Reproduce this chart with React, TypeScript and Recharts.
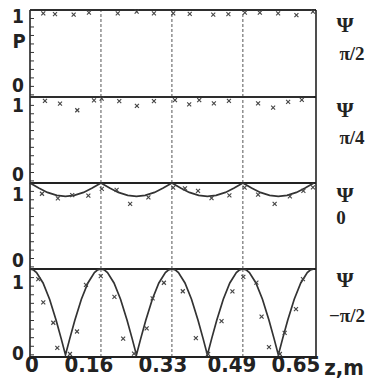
import React from 'react';
import { ComposedChart, Line, Scatter, XAxis, YAxis, ReferenceLine } from 'recharts';

// z axis (m)
const zTicks = [0, 0.163, 0.326, 0.489, 0.652];
const zTickLabels = ['0', '0.16', '0.33', '0.49', '0.65'];
const pTicks = [0, 0.1, 0.2, 0.3, 0.4, 0.5, 0.6, 0.7, 0.8, 0.9, 1];
const phaseLabels = ['π/2', 'π/4', '0', '−π/2'];

// calculated curves
const zFlat = [0, 0.652];
const pHalfPi = [1, 1];
const pQuarterPi = [1, 1];

const zCurveZero = [
  0, 0.02, 0.04, 0.0615, 0.0815, 0.1015, 0.123, 0.143,
  0.163, 0.183, 0.203, 0.2245, 0.2445, 0.2645, 0.286, 0.306,
  0.326, 0.346, 0.366, 0.3875, 0.4075, 0.4275, 0.449, 0.469,
  0.489, 0.509, 0.529, 0.5505, 0.5705, 0.5905, 0.612, 0.632, 0.652,
];
const pCurveZero = [
  1, 0.94, 0.888, 0.852, 0.84, 0.852, 0.888, 0.94,
  1, 0.94, 0.888, 0.852, 0.84, 0.852, 0.888, 0.94,
  1, 0.94, 0.888, 0.852, 0.84, 0.852, 0.888, 0.94,
  1, 0.94, 0.888, 0.852, 0.84, 0.852, 0.888, 0.94, 1,
];

const zCurveMinusHalfPi = [
  0, 0.0075, 0.015, 0.03, 0.045, 0.06, 0.0715, 0.0815, 0.0915, 0.103, 0.118, 0.133, 0.148, 0.1555,
  0.163, 0.1705, 0.178, 0.193, 0.208, 0.223, 0.2345, 0.2445, 0.2545, 0.266, 0.281, 0.296, 0.311, 0.3185,
  0.326, 0.3335, 0.341, 0.356, 0.371, 0.386, 0.3975, 0.4075, 0.4175, 0.429, 0.444, 0.459, 0.474, 0.4815,
  0.489, 0.4965, 0.504, 0.519, 0.534, 0.549, 0.5605, 0.5705, 0.5805, 0.592, 0.607, 0.622, 0.637, 0.6445,
  0.652,
];
const pCurveMinusHalfPi = [
  1, 0.99, 0.958, 0.837, 0.647, 0.402, 0.192, 0, 0.192, 0.402, 0.647, 0.837, 0.958, 0.99,
  1, 0.99, 0.958, 0.837, 0.647, 0.402, 0.192, 0, 0.192, 0.402, 0.647, 0.837, 0.958, 0.99,
  1, 0.99, 0.958, 0.837, 0.647, 0.402, 0.192, 0, 0.192, 0.402, 0.647, 0.837, 0.958, 0.99,
  1, 0.99, 0.958, 0.837, 0.647, 0.402, 0.192, 0, 0.192, 0.402, 0.647, 0.837, 0.958, 0.99,
  1,
];

// measured points (x marks)
const zMarksHalfPi = [0.0305, 0.0574, 0.1003, 0.1354, 0.2016, 0.245, 0.2847, 0.329, 0.367, 0.421, 0.4557, 0.4936, 0.528, 0.57, 0.612, 0.65];
const pMarksHalfPi = [0.961, 0.952, 0.945, 0.968, 0.961, 0.98, 0.961, 0.961, 0.955, 0.945, 0.952, 0.968, 0.968, 0.961, 0.94, 0.98];

const zMarksQuarterPi = [0.0344, 0.0689, 0.1086, 0.147, 0.1646, 0.205, 0.2456, 0.2847, 0.333, 0.3657, 0.3887, 0.4224, 0.457, 0.524, 0.5585, 0.593, 0.6244];
const pMarksQuarterPi = [0.955, 0.922, 0.842, 0.961, 0.981, 0.952, 0.895, 0.952, 0.964, 0.913, 0.964, 0.925, 0.955, 0.925, 0.874, 0.943, 0.967];

const zMarksZero = [0.0275, 0.064, 0.097, 0.134, 0.165, 0.199, 0.23, 0.272, 0.329, 0.356, 0.386, 0.417, 0.458, 0.493, 0.524, 0.562, 0.597, 0.628, 0.65];
const pMarksZero = [0.872, 0.816, 0.855, 0.849, 0.929, 0.917, 0.75, 0.829, 0.944, 0.935, 0.905, 0.819, 0.852, 0.945, 0.862, 0.75, 0.84, 0.905, 0.949];

const zMarksMinusHalfPi = [0.019, 0.0305, 0.0535, 0.0627, 0.0918, 0.108, 0.1286, 0.1625, 0.194, 0.214, 0.239, 0.268, 0.2817, 0.3076, 0.351, 0.381, 0.409, 0.44, 0.465, 0.49, 0.52, 0.532, 0.549, 0.574, 0.585, 0.611, 0.627];
const pMarksMinusHalfPi = [0.881, 0.612, 0.374, 0.08, 0.01, 0.272, 0.816, 0.917, 0.676, 0.19, 0.014, 0.309, 0.658, 0.84, 0.741, 0.196, 0.01, 0.394, 0.739, 0.909, 0.842, 0.445, 0.089, 0.01, 0.255, 0.533, 0.881];

const zip = (zs: number[], ps: number[]) => zs.map((z, i) => ({ z, p: ps[i] }));

const panels = [
  { curve: zip(zFlat, pHalfPi), marks: zip(zMarksHalfPi, pMarksHalfPi) },
  { curve: zip(zFlat, pQuarterPi), marks: zip(zMarksQuarterPi, pMarksQuarterPi) },
  { curve: zip(zCurveZero, pCurveZero), marks: zip(zMarksZero, pMarksZero) },
  { curve: zip(zCurveMinusHalfPi, pCurveMinusHalfPi), marks: zip(zMarksMinusHalfPi, pMarksMinusHalfPi) },
];

// layout
const W = 371;
const PAD = 14;
const PLOT_LEFT = 30;
const PLOT_RIGHT = 55;
const TOPS = [10, 97, 183, 269];
const HEIGHTS = [87, 86, 86, 86];
const X_AXIS_H = 23;
const Z_MAX = 0.657;
const P_MIN = -0.025;
const ONE_DY = [6, 8, 11, 13];
const ZERO_DY = [-10, -7, -7, -2];
const PSI_Y = [24, 109, 194, 279];
const PHASE_POS = [
  [352, 53],
  [352, 137],
  [341, 217],
  [347, 315],
];
const X_LABEL_DX = [2, -12, -9, -11, -18];

const NUM_FONT = "'Liberation Sans Narrow', 'DejaVu Sans Condensed', 'Liberation Sans', Arial, sans-serif";
const SERIF = "'Liberation Serif', 'DejaVu Serif', serif";
const INK = '#222';

const XMark = (props: any) => {
  const { cx, cy } = props;
  if (cx == null || cy == null) return null;
  const s = 2;
  return (
    <g stroke="#444" strokeWidth={1.1}>
      <line x1={cx - s} y1={cy - s} x2={cx + s} y2={cy + s} />
      <line x1={cx - s} y1={cy + s} x2={cx + s} y2={cy - s} />
    </g>
  );
};

const makeYTick = (idx: number) => (props: any) => {
  const { y, payload } = props;
  const v = payload.value;
  return (
    <g>
      <line x1={PLOT_LEFT} x2={PLOT_LEFT + 4} y1={y} y2={y} stroke="#333" strokeWidth={1} />
      {(v === 1 || v === 0) && (
        <text
          x={18}
          y={y + (v === 1 ? ONE_DY[idx] : ZERO_DY[idx])}
          textAnchor="middle"
          dominantBaseline="central"
          fontFamily={NUM_FONT}
          fontWeight="bold"
          fontSize={19}
          fill={INK}
        >
          {v}
        </text>
      )}
    </g>
  );
};

const XTick = (props: any) => {
  const { x, y, payload, index } = props;
  const i = zTicks.indexOf(payload.value);
  const k = i >= 0 ? i : index;
  return (
    <text
      x={x + X_LABEL_DX[k]}
      y={y + 5}
      textAnchor="middle"
      dominantBaseline="central"
      fontFamily={NUM_FONT}
      fontWeight="bold"
      fontSize={22}
      fill={INK}
    >
      {zTickLabels[k]}
    </text>
  );
};

const Panel = ({ idx }: { idx: number }) => {
  const last = idx === panels.length - 1;
  const h = HEIGHTS[idx] + 2 * PAD + (last ? X_AXIS_H : 0);
  const { curve, marks } = panels[idx];
  return (
    <div style={{ position: 'absolute', left: 0, top: TOPS[idx] - PAD }}>
      <ComposedChart
        width={W}
        height={h}
        margin={{ top: PAD, right: PLOT_RIGHT, bottom: PAD, left: 0 }}
      >
        <XAxis
          type="number"
          dataKey="z"
          domain={[0, Z_MAX]}
          ticks={zTicks}
          interval={0}
          hide={!last}
          height={X_AXIS_H - PAD + 12}
          axisLine={{ stroke: INK, strokeWidth: 2 }}
          tickLine={false}
          tickSize={0}
          tick={<XTick />}
        />
        <YAxis
          type="number"
          dataKey="p"
          domain={[P_MIN, 1]}
          ticks={pTicks}
          interval={0}
          width={PLOT_LEFT}
          axisLine={{ stroke: INK, strokeWidth: 1.6 }}
          tickLine={false}
          tick={makeYTick(idx)}
        />
        {zTicks.slice(1, 4).map((z) => (
          <ReferenceLine key={z} x={z} stroke="#555" strokeWidth={1} strokeDasharray="3 2" />
        ))}
        <ReferenceLine x={Z_MAX} stroke={INK} strokeWidth={1.6} />
        <ReferenceLine y={1} stroke={INK} strokeWidth={2} />
        <Line
          data={curve}
          dataKey="p"
          type="linear"
          stroke="#333"
          strokeWidth={1.7}
          dot={false}
          isAnimationActive={false}
        />
        <Scatter data={marks} dataKey="p" shape={<XMark />} isAnimationActive={false} />
      </ComposedChart>
    </div>
  );
};

const App = () => {
  return (
    <div
      style={{
        position: 'absolute',
        left: 0,
        top: 0,
        width: W,
        height: 378,
        background: '#fff',
        overflow: 'hidden',
      }}
    >
      {panels.map((_, i) => (
        <Panel key={i} idx={i} />
      ))}
      <svg width={W} height={378} style={{ position: 'absolute', left: 0, top: 0, pointerEvents: 'none' }}>
        <text x={19} y={41} textAnchor="middle" dominantBaseline="central" fontFamily={NUM_FONT} fontWeight="bold" fontSize={20} fill={INK}>
          P
        </text>
        {PSI_Y.map((y, i) => (
          <text key={'psi' + i} x={345} y={y} textAnchor="middle" dominantBaseline="central" fontFamily={SERIF} fontWeight="bold" fontSize={22} fill={INK}>
            Ψ
          </text>
        ))}
        {phaseLabels.map((t, i) => (
          <text key={'ph' + i} x={PHASE_POS[i][0]} y={PHASE_POS[i][1]} textAnchor="middle" dominantBaseline="central" fontFamily={SERIF} fontWeight="bold" fontSize={19} fill={INK}>
            {t}
          </text>
        ))}
        <text x={344} y={TOPS[3] + HEIGHTS[3] + 12} textAnchor="middle" dominantBaseline="central" fontFamily={NUM_FONT} fontWeight="bold" fontSize={22} fill={INK}>
          z,m
        </text>
      </svg>
    </div>
  );
};

export default App;
